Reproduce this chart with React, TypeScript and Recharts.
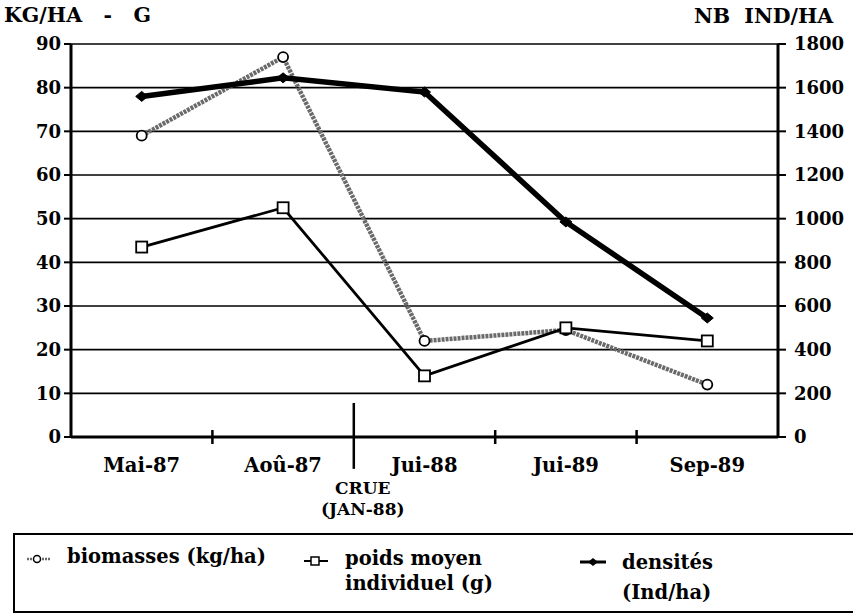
import React from 'react';
import { LineChart, Line, XAxis, YAxis, CartesianGrid, ReferenceLine } from 'recharts';

const categories = ['Mai-87', 'Aoû-87', 'Jui-88', 'Jui-89', 'Sep-89'];
const biomasses = [69, 87, 22, 24.5, 12];
const poidsMoyen = [43.5, 52.5, 14, 25, 22];
const densites = [1560, 1645, 1580, 985, 545];
const leftTicks = [0, 10, 20, 30, 40, 50, 60, 70, 80, 90];
const rightTicks = [0, 200, 400, 600, 800, 1000, 1200, 1400, 1600, 1800];
const categoryIndex = [0, 1, 2, 3, 4];
const boundaryTicks = [0.5, 2.5, 3.5];
const crueAt = 1.5;

const data = categories.map((c, i) => ({
  idx: categoryIndex[i],
  name: c,
  biomasses: biomasses[i],
  poids: poidsMoyen[i],
  densites: densites[i],
}));

const FONT = '"DejaVu Serif", serif';

const CircleDot = (p: any) => {
  if (p.cx == null || p.cy == null) return <g key={p.index} />;
  return <circle key={p.index} cx={p.cx} cy={p.cy} r={5} fill="#fff" stroke="#000" strokeWidth={1.8} />;
};
const SquareDot = (p: any) => {
  if (p.cx == null || p.cy == null) return <g key={p.index} />;
  return <rect key={p.index} x={p.cx - 5.5} y={p.cy - 5.5} width={11} height={11} fill="#fff" stroke="#000" strokeWidth={1.8} />;
};
const DiamondDot = (p: any) => {
  if (p.cx == null || p.cy == null) return <g key={p.index} />;
  const { cx, cy } = p;
  return <polygon key={p.index} points={`${cx - 6},${cy} ${cx},${cy - 5} ${cx + 6},${cy} ${cx},${cy + 5}`} fill="#000" stroke="#000" />;
};

const CrueLabel = (p: any) => {
  const vb = p.viewBox || {};
  const x = (vb.x || 0) + 9;
  const yb = (vb.y || 0) + (vb.height || 0);
  return (
    <g>
      <text x={x} y={yb + 25} textAnchor="middle" fontFamily={FONT} fontWeight="bold" fontSize={17} fill="#000">CRUE</text>
      <text x={x} y={yb + 46} textAnchor="middle" fontFamily={FONT} fontWeight="bold" fontSize={17} fill="#000">(JAN-88)</text>
    </g>
  );
};

const tickStyle = { fontFamily: FONT, fontWeight: 'bold' as const, fontSize: 18, fill: '#000' };
const catTickStyle = { fontFamily: FONT, fontWeight: 'bold' as const, fontSize: 19.5, fill: '#000' };

export default function App() {
  return (
    <div style={{ position: 'absolute', left: 0, top: 0, width: 853, height: 616, overflow: 'hidden', background: '#fff' }}>
      <div style={{ position: 'absolute', left: 4, top: 2, fontFamily: FONT, fontWeight: 'bold', fontSize: 20.5, whiteSpace: 'pre', lineHeight: '26px' }}>
        {'KG/HA   -   G'}
      </div>
      <div style={{ position: 'absolute', left: 694, top: 3, fontFamily: FONT, fontWeight: 'bold', fontSize: 20.5, whiteSpace: 'pre', lineHeight: '26px' }}>
        {'NB  IND/HA'}
      </div>
      <LineChart width={853} height={616} data={data} margin={{ top: 44, right: 5, bottom: 149, left: 11 }}>
        <CartesianGrid yAxisId="left" vertical={false} stroke="#000" strokeWidth={1.6} strokeOpacity={1} />
        <XAxis
          dataKey="idx"
          type="number"
          domain={[-0.5, 4.5]}
          ticks={categoryIndex}
          tickFormatter={(v: number) => categories[v]}
          tickLine={false}
          tickSize={0}
          tickMargin={21}
          height={30}
          axisLine={{ stroke: '#000', strokeWidth: 3 }}
          tick={catTickStyle}
          interval={0}
        />
        <YAxis
          yAxisId="left"
          domain={[0, 90]}
          ticks={leftTicks}
          width={60}
          tickSize={7}
          tickMargin={3}
          axisLine={{ stroke: '#000', strokeWidth: 3 }}
          tickLine={{ stroke: '#000', strokeWidth: 2 }}
          tick={tickStyle}
          interval={0}
        />
        <YAxis
          yAxisId="right"
          orientation="right"
          domain={[0, 1800]}
          ticks={rightTicks}
          width={70}
          tickSize={8}
          tickMargin={8}
          axisLine={{ stroke: '#000', strokeWidth: 3 }}
          tickLine={{ stroke: '#000', strokeWidth: 2 }}
          tick={tickStyle}
          interval={0}
        />
        {boundaryTicks.map((b) => (
          <ReferenceLine
            key={b}
            yAxisId="left"
            segment={[{ x: b, y: -1.6 }, { x: b, y: 1.6 }]}
            stroke="#000"
            strokeWidth={2.5}
            ifOverflow="visible"
          />
        ))}
        <ReferenceLine
          yAxisId="left"
          segment={[{ x: crueAt, y: -7.3 }, { x: crueAt, y: 7.8 }]}
          stroke="#000"
          strokeWidth={2.5}
          ifOverflow="visible"
          label={<CrueLabel />}
        />
        <Line
          yAxisId="left"
          dataKey="biomasses"
          stroke="#6a6a6a"
          strokeWidth={4.5}
          strokeDasharray="3 1"
          dot={CircleDot}
          isAnimationActive={false}
        />
        <Line
          yAxisId="right"
          dataKey="densites"
          stroke="#000"
          strokeWidth={5.5}
          dot={DiamondDot}
          isAnimationActive={false}
        />
        <Line
          yAxisId="left"
          dataKey="poids"
          stroke="#000"
          strokeWidth={2.8}
          dot={SquareDot}
          isAnimationActive={false}
        />
      </LineChart>
      <div style={{ position: 'absolute', left: 13, top: 533, width: 900, height: 76, border: '2px solid #000', fontFamily: FONT, fontWeight: 'bold', fontSize: 19.5 }}>
        <svg style={{ position: 'absolute', left: 10, top: 17 }} width={28} height={14}>
          <line x1={2} y1={7} x2={26} y2={7} stroke="#6a6a6a" strokeWidth={2.5} strokeDasharray="2 1" />
          <circle cx={12} cy={7} r={3.5} fill="#fff" stroke="#000" strokeWidth={1.5} />
        </svg>
        <div style={{ position: 'absolute', left: 52, top: 10, whiteSpace: 'pre' }}>biomasses (kg/ha)</div>
        <svg style={{ position: 'absolute', left: 287, top: 19 }} width={28} height={14}>
          <line x1={2} y1={7} x2={26} y2={7} stroke="#000" strokeWidth={2} />
          <rect x={9} y={3} width={8} height={8} fill="#fff" stroke="#000" strokeWidth={1.5} />
        </svg>
        <div style={{ position: 'absolute', left: 330, top: 11, lineHeight: '25px', whiteSpace: 'pre' }}>
          {'poids moyen\nindividuel (g)'}
        </div>
        <svg style={{ position: 'absolute', left: 563, top: 20 }} width={30} height={14}>
          <line x1={2} y1={7} x2={28} y2={7} stroke="#000" strokeWidth={3} />
          <polygon points="10,7 15,3 20,7 15,11" fill="#000" />
        </svg>
        <div style={{ position: 'absolute', left: 607, top: 13, lineHeight: '30px', whiteSpace: 'pre' }}>
          {'densités\n(Ind/ha)'}
        </div>
      </div>
    </div>
  );
}
